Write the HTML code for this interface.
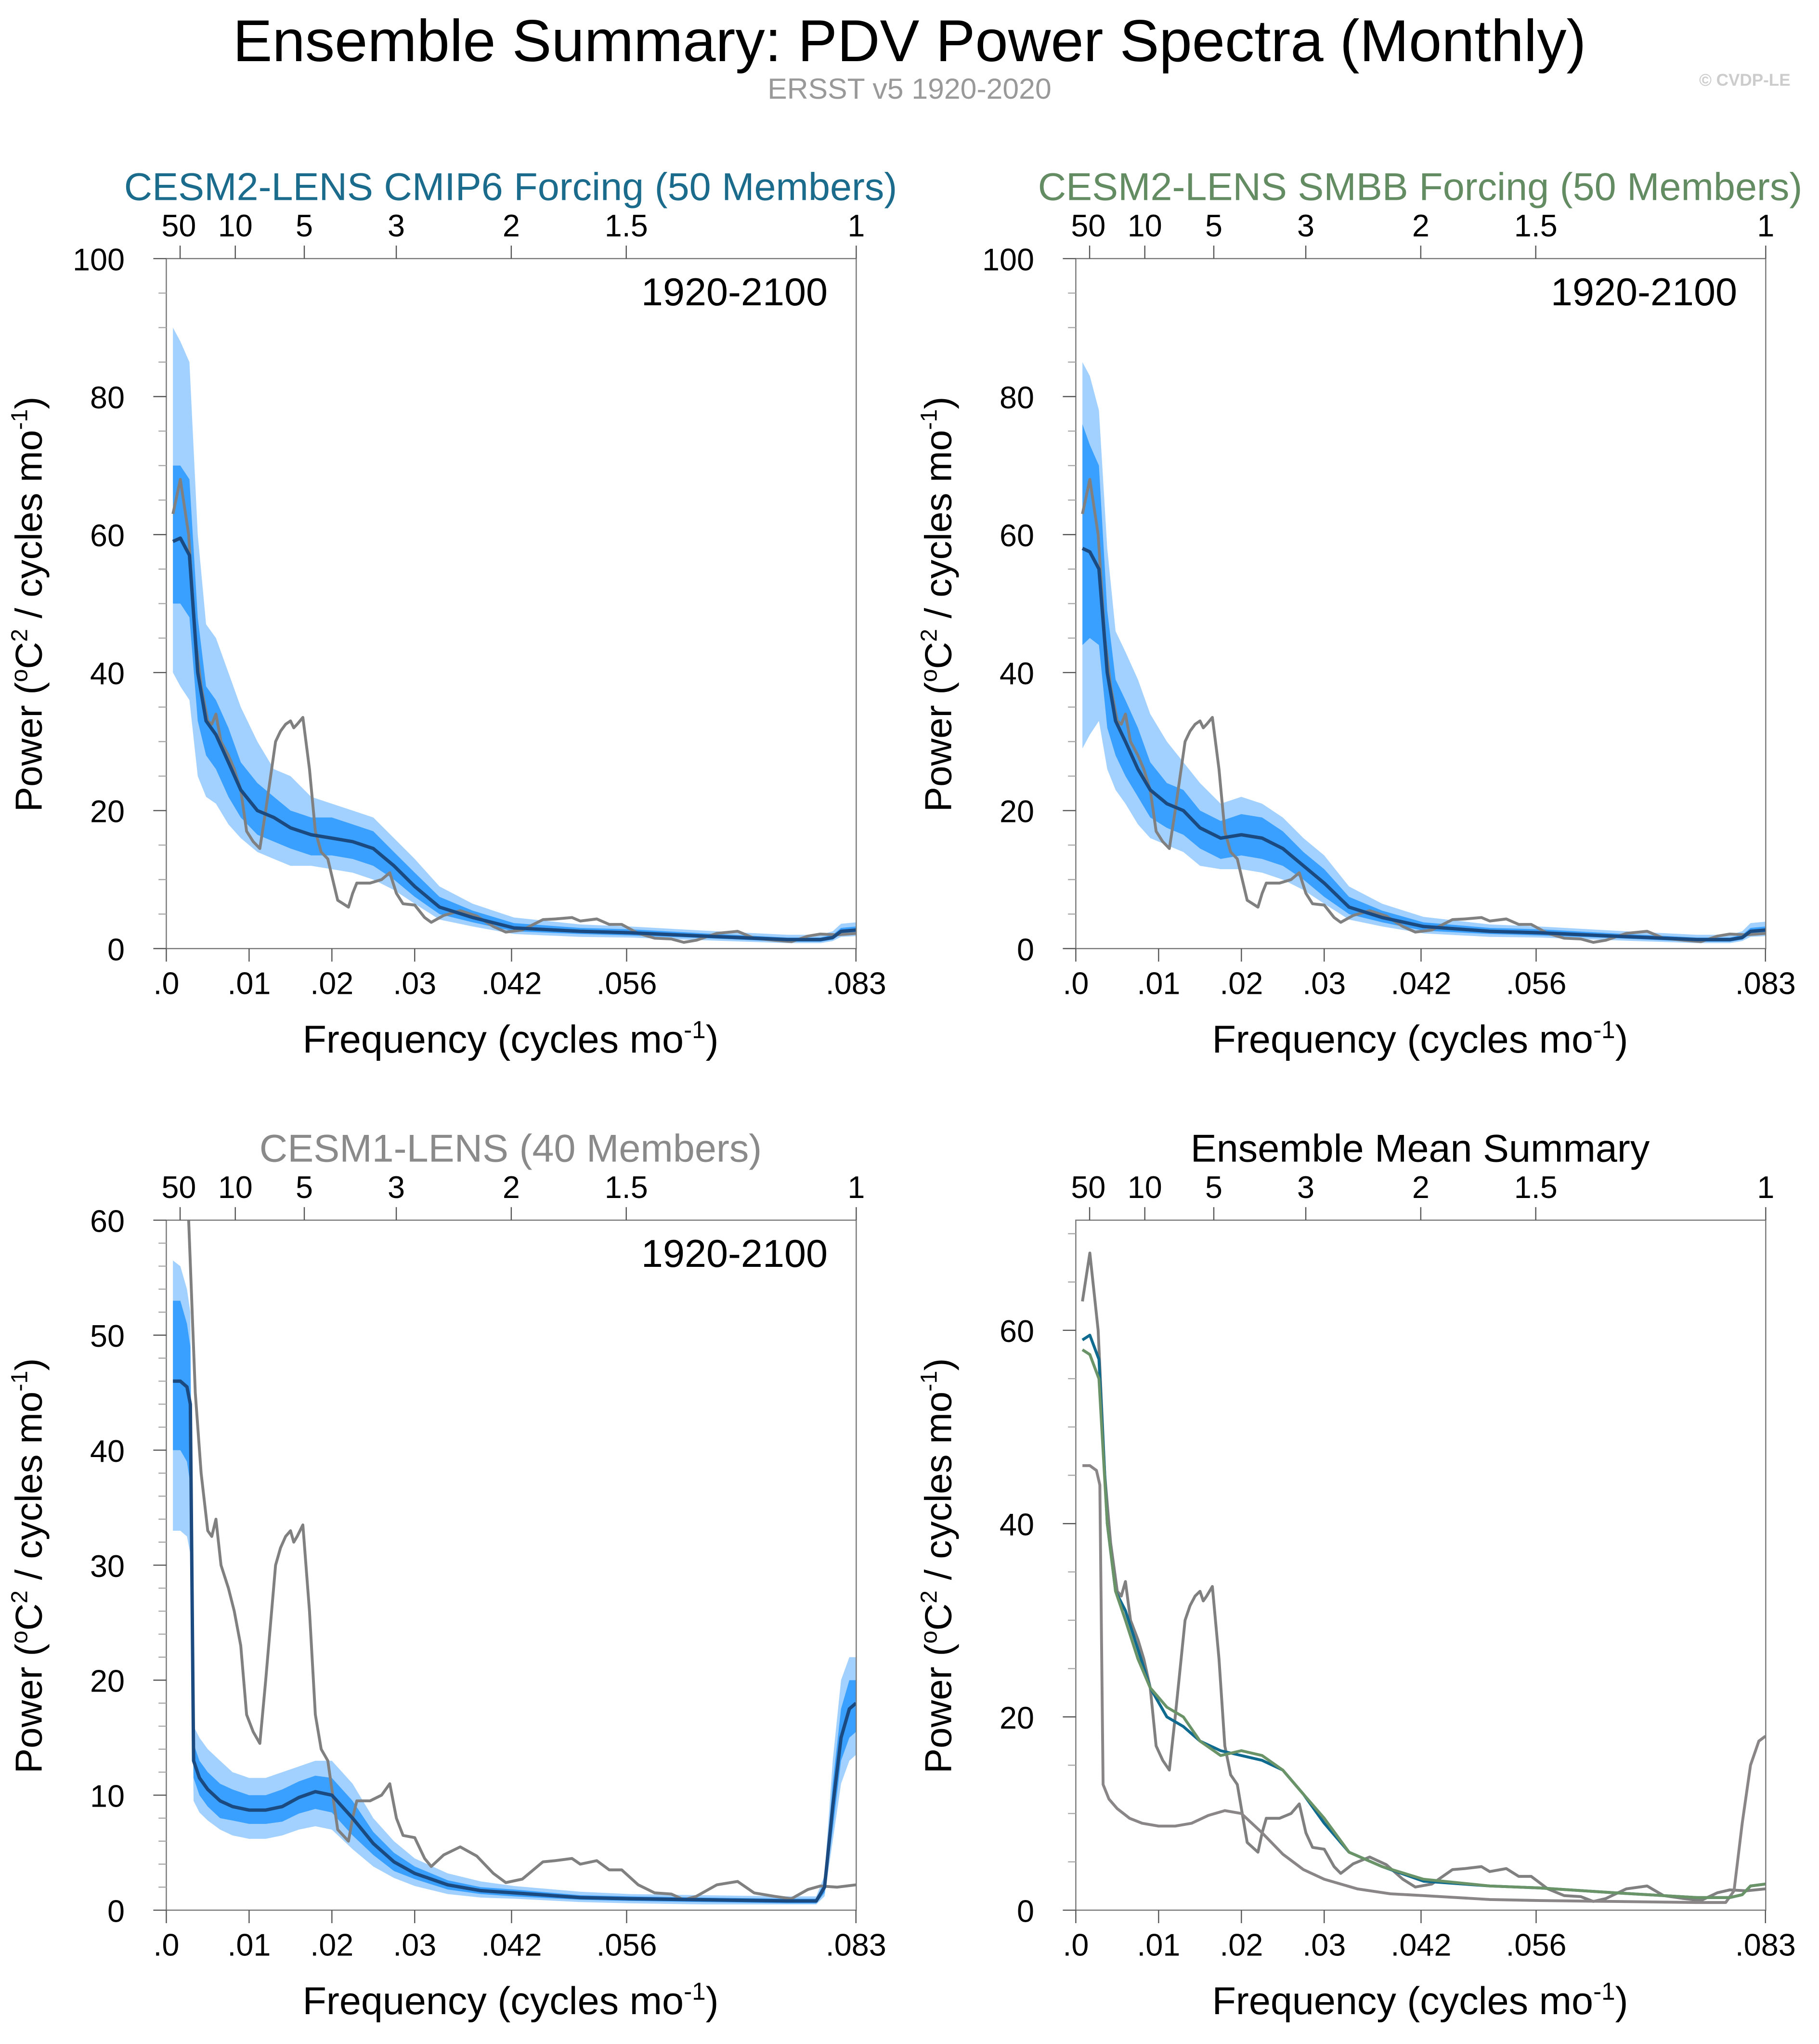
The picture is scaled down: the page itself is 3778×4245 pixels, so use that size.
<!DOCTYPE html>
<html><head><meta charset="utf-8"><style>
html,body{margin:0;padding:0;background:#fff}
svg{display:block}
text{font-family:"Liberation Sans",sans-serif}
</style></head><body>
<svg id="fig" width="3778" height="4245" viewBox="0 0 1400 1573" preserveAspectRatio="none" xmlns="http://www.w3.org/2000/svg">
<text x="700" y="47" font-size="45.5" text-anchor="middle">Ensemble Summary: PDV Power Spectra (Monthly)</text>
<text x="700" y="76" font-size="22.5" fill="#999" text-anchor="middle">ERSST v5 1920-2020</text>
<text x="1378" y="66" font-size="13" fill="#ccc" text-anchor="end" font-weight="bold">© CVDP-LE</text>
<g id="plots"></g>
</svg>
<script>
// ---- data ----
const obsF = [0.0008,0.0017,0.0027,0.0035,0.0042,0.005,0.0055,0.006,0.0066,0.0075,0.0082,0.009,0.0097,0.0105,0.0113,0.012,0.0132,0.0138,0.0144,0.015,0.0154,0.0158,0.0165,0.0173,0.018,0.0187,0.0195,0.0207,0.022,0.0225,0.023,0.0246,0.026,0.027,0.0278,0.0286,0.03,0.0312,0.032,0.0335,0.0355,0.0375,0.0395,0.041,0.043,0.0455,0.047,0.049,0.05,0.052,0.0535,0.055,0.057,0.059,0.061,0.0625,0.064,0.0665,0.069,0.071,0.0735,0.0755,0.0775,0.079,0.081,0.0833];
const obsP = [63,68,60,45,38,33,32.5,34,30,28,26,23,17,15.5,14.5,20,30,31.5,32.5,33,32,32.5,33.5,26,17,14,13,7,6,8,9.5,9.5,10,11,8,6.5,6.3,4.5,3.8,4.8,5.5,4.7,3.2,2.4,2.7,4.2,4.3,4.5,4,4.3,3.5,3.5,2.2,1.5,1.4,0.9,1.2,2.2,2.5,1.5,1.2,1,1.8,2.1,2,2.2];

const fm = [0.0008,0.0017,0.0028,0.0038,0.0048,0.006,0.0075,0.009,0.011,0.013,0.015,0.0175,0.02,0.0225,0.025,0.0275,0.03,0.033,0.037,0.042,0.05,0.056,0.065,0.075,0.079,0.0805,0.0815,0.0833];
const c6Mean = [59,59.5,57,40,33,31,27,23,20,19,17.5,16.5,16,15.5,14.5,12,9,6,4.5,3,2.5,2.3,1.8,1.3,1.3,1.6,2.5,2.7];
const c6P90 = [90,88,85,60,47,45,40,35,30,26,25,22,21,20,19,16,13,9,6.5,4.5,3.5,3.2,2.6,2,2,2.5,3.6,3.8];
const c6P75 = [70,70,68,48,38,36,32,27,24,22,20,19,19,18,17,14,11,7.5,5.5,3.7,3,2.8,2.2,1.6,1.6,2,3,3.2];
const c6P25 = [50,50,48,33,28,26,22,19,16.5,15.5,14.5,13.5,13.5,13,12,10,7.5,5,3.8,2.5,2.1,1.9,1.5,1.0,1.0,1.3,2.1,2.2];
const c6P10 = [40,38,36,25,22,21,18,16,14,13,12,12,11.5,11,10,8.5,6.5,4.2,3.2,2.1,1.7,1.6,1.2,0.8,0.8,1.1,1.7,1.8];

const smMean = [58,57.5,55,40,33,30,26,23,21,20,17.5,16,16.5,16,14.5,12,9.5,6,4.5,3.2,2.5,2.3,1.8,1.3,1.3,1.6,2.5,2.7];
const smP90 = [85,83,78,58,46,43,39,34,30,27,24,21,22,21,19,16,13.5,9,6.5,4.6,3.5,3.2,2.6,2,2,2.5,3.7,3.9];
const smP75 = [76,73,70,49,39,36,32,27,24,23,20,18.5,19.5,19,17,14,11.5,7.5,5.5,3.8,3,2.8,2.2,1.6,1.6,2,3,3.2];
const smP25 = [44,45,44,32,28,25,22,19,17.5,16.5,14.5,13,13.5,13,12,10,7.5,5,3.8,2.6,2.1,1.9,1.5,1.0,1.0,1.3,2.1,2.2];
const smP10 = [29,31,33,26,23,21,18,16,15,14,12,11.5,11.5,11,10,8.5,6.5,4.2,3.2,2.2,1.7,1.6,1.2,0.8,0.8,1.1,1.7,1.8];

const f3 = [0.0008,0.0017,0.0025,0.0029,0.0033,0.004,0.005,0.0065,0.008,0.01,0.012,0.014,0.016,0.018,0.02,0.0225,0.025,0.0275,0.03,0.034,0.038,0.042,0.05,0.056,0.065,0.075,0.0785,0.0795,0.0805,0.0815,0.0825,0.0833];
const l1Mean = [46,46,45.5,44,13,11.5,10.5,9.5,9,8.7,8.7,9,9.8,10.3,10,8,5.8,4.2,3.2,2.2,1.7,1.5,1.1,1,0.9,0.8,0.8,2,9,15,17.5,18];
const l1P90 = [56.5,56,54,52,16,15,14,13,12,11.5,11.5,12,12.5,13,13,11,8,6,4.5,3.2,2.5,2.1,1.6,1.4,1.3,1.2,1.2,3,13,20,22,22];
const l1P75 = [53,53,51,49,14.5,13,12,11,10.5,10,10,10.5,11.2,11.7,11.5,9.5,6.8,5,3.8,2.6,2,1.8,1.3,1.2,1.1,1,1,2.5,11,17.5,20,20];
const l1P25 = [40,40,39,37,11.5,10,9,8,7.8,7.5,7.5,7.7,8.4,8.8,8.5,6.5,4.8,3.4,2.7,1.8,1.4,1.2,0.9,0.8,0.7,0.6,0.6,1.5,7,13,15,15.5];
const l1P10 = [33,33,32.5,31,9.5,8.5,7.8,7,6.5,6.2,6.2,6.5,7,7.3,7,5.3,3.8,2.8,2.1,1.4,1.1,1,0.7,0.6,0.5,0.5,0.5,1.2,6,11,13,13.5];

const xTickVals = [0,0.01,0.02,0.03,0.0417,0.0556,0.0833];
const xTickLabels = [".0",".01",".02",".03",".042",".056",".083"];
const periodYears = [50,10,5,3,2,1.5,1];
const periodLabels = ["50","10","5","3","2","1.5","1"];

// ---- drawing ----
const NS="http://www.w3.org/2000/svg";
const root=document.getElementById('plots');
function mk(tag,attrs,parent){const e=document.createElementNS(NS,tag);for(const k in attrs)e.setAttribute(k,attrs[k]);(parent||root).appendChild(e);return e;}
const FMAX=1/12;
function panel(p){
  const g=mk('g',{});
  
  
  const X=f=>p.x+f/FMAX*531, Y=v=>p.y+531-v/p.ymax*531;
  const cp=mk('clipPath',{id:'c'+p.id},g);mk('rect',{x:p.x,y:p.y,width:531,height:531},cp);
  const plot=mk('g',{'clip-path':'url(#c'+p.id+')'},g);
  function band(fr,hi,lo,col,nm){
    let d='M'+fr.map((f,i)=>X(f).toFixed(1)+','+Y(hi[i]).toFixed(1)).join('L');
    d+='L'+fr.map((f,i)=>X(f).toFixed(1)+','+Y(lo[i]).toFixed(1)).reverse().join('L')+'Z';
    const e=mk('path',{d:d,fill:col},plot);
    
    
  }
  function line(fr,v,col,w,nm){
    const d='M'+fr.map((f,i)=>X(f).toFixed(1)+','+Y(v[i]).toFixed(1)).join('L');
    const e=mk('path',{d:d,fill:'none',stroke:col,'stroke-width':w,'stroke-linejoin':'round'},plot);
    
    
  }
  if(p.bands){
    band(p.fr,p.bands[0],p.bands[3],'#a3d1ff','band-10-90');
    band(p.fr,p.bands[1],p.bands[2],'#3aa0ff','band-25-75');
    line(obsF,obsP,'#808080',2.2,'obs-line');
    line(p.fr,p.mean,'#1a4a80',2.6,'ensemble-mean-line');
  }
  if(p.lines){p.lines.forEach(l=>line(l.fr,l.v,l.col,2.2,l.name));}
  const fr=mk('rect',{x:p.x,y:p.y,width:531,height:531,fill:'none',stroke:'#777','stroke-width':0.9},g);
  
  
  for(let v=0;v<=p.ymax+1e-6;v+=p.ymin){
    const maj=Math.abs(v/p.ymaj-Math.round(v/p.ymaj))<1e-6;
    const t=mk('line',{x1:p.x,x2:p.x-(maj?10:6),y1:Y(v),y2:Y(v),stroke:maj?'#555':'#aaa','stroke-width':0.9},g);
    
    
    if(maj){const tx=mk('text',{x:p.x-32,y:Y(v)+9,'font-size':24,'text-anchor':'end'},g);tx.textContent=String(v);
      
      }
  }
  xTickVals.forEach((f,i)=>{
    const t=mk('line',{x1:X(f),x2:X(f),y1:p.y+531,y2:p.y+541,stroke:'#555','stroke-width':0.9},g);
    
    
    const tx=mk('text',{x:X(f),y:p.y+566,'font-size':24,'text-anchor':'middle'},g);tx.textContent=xTickLabels[i];
    
    
  });
  periodYears.forEach((yr,i)=>{
    const f=1/(yr*12);
    const t=mk('line',{x1:X(f),x2:X(f),y1:p.y,y2:p.y-10,stroke:'#555','stroke-width':0.9},g);
    
    
    const tx=mk('text',{x:X(f)+(yr==50?-1:(yr==10?0:0)),y:p.y-17,'font-size':24,'text-anchor':'middle'},g);tx.textContent=periodLabels[i];
    
    
  });
  const yt=mk('text',{x:0,y:0,'font-size':29,'text-anchor':'middle',transform:'translate('+(p.x-96)+','+(p.y+266)+') rotate(-90)'},g);
  yt.innerHTML='Power (<tspan font-size="18" dy="-11">o</tspan><tspan dy="11">C</tspan><tspan font-size="18" dy="-11">2</tspan><tspan dy="11"> / cycles mo</tspan><tspan font-size="18" dy="-11">-1</tspan><tspan dy="11">)</tspan>';
  
  
  const xt=mk('text',{x:p.x+265,y:p.y+611,'font-size':30,'text-anchor':'middle'},g);
  xt.innerHTML='Frequency (cycles mo<tspan font-size="19" dy="-11">-1</tspan><tspan dy="11">)</tspan>';
  
  
  const tt=mk('text',{x:p.x+265,y:p.y-45,'font-size':30,'text-anchor':'middle',fill:p.tcol},g);tt.textContent=p.title;
  
  
  if(p.period){const pt=mk('text',{x:p.x+509,y:p.y+36,'font-size':30,'text-anchor':'end'},g);pt.textContent=p.period;
    
    }
}
panel({id:1,name:'panel-cesm2-cmip6',x:128,y:199,ymax:100,ymaj:20,ymin:5,title:'CESM2-LENS CMIP6 Forcing (50 Members)',tcol:'#1a6b8c',period:'1920-2100',fr:fm,mean:c6Mean,bands:[c6P90,c6P75,c6P25,c6P10]});
panel({id:2,name:'panel-cesm2-smbb',x:828,y:199,ymax:100,ymaj:20,ymin:5,title:'CESM2-LENS SMBB Forcing (50 Members)',tcol:'#638c63',period:'1920-2100',fr:fm,mean:smMean,bands:[smP90,smP75,smP25,smP10]});
panel({id:3,name:'panel-cesm1',x:128,y:939,ymax:60,ymaj:10,ymin:2,title:'CESM1-LENS (40 Members)',tcol:'#8a8a8a',period:'1920-2100',fr:f3,mean:l1Mean,bands:[l1P90,l1P75,l1P25,l1P10]});
panel({id:4,name:'panel-ensemble-mean-summary',x:828,y:939,ymax:71.4,ymaj:20,ymin:5,title:'Ensemble Mean Summary',tcol:'#000',
  lines:[{fr:obsF,v:obsP,col:'#808080',name:'obs-line'},{fr:f3,v:l1Mean,col:'#8a8688',name:'cesm1-mean-line'},{fr:fm,v:c6Mean,col:'#0e6a8e',name:'cesm2-cmip6-mean-line'},{fr:fm,v:smMean,col:'#6a9468',name:'cesm2-smbb-mean-line'}]});
</script>
</body></html>
